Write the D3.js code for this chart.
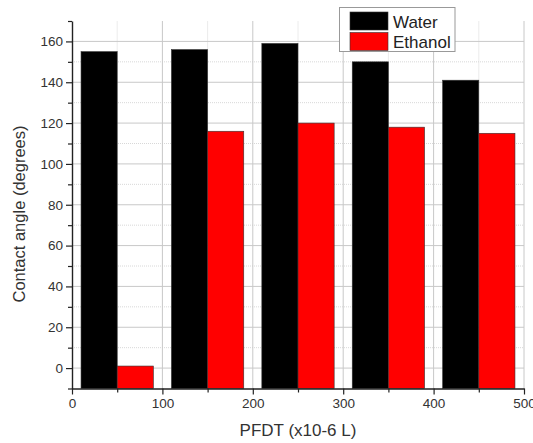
<!DOCTYPE html>
<html><head><meta charset="utf-8">
<script src="https://cdn.jsdelivr.net/npm/d3@7"></script>
<style>body{margin:0;background:#fff}svg{display:block;font-family:"Liberation Sans",Arial,sans-serif}</style>
</head><body><svg id="c" width="533" height="443"></svg>
<script>
const categories = [50, 150, 250, 350, 450];
const seriesNames = ["Water", "Ethanol"];
const water = [155, 156, 159, 150, 141];
const ethanol = [1, 116, 120, 118, 115];
const xTicks = [0, 100, 200, 300, 400, 500];
const yTicks = [0, 20, 40, 60, 80, 100, 120, 140, 160];
const colors = ["#000000", "#ff0000"];

const svg = d3.select("#c");
const x = d3.scaleLinear().domain([0, 500]).range([72, 524]);
const y = d3.scaleLinear().domain([-10, 170]).range([388.5, 21]);

// grid
const g = svg.append("g");
d3.range(10, 171, 20).forEach(v => {
  if (v === 170) return;
  g.append("line").attr("x1", x(0)).attr("x2", x(500)).attr("y1", y(v)).attr("y2", y(v))
   .attr("stroke", "#d8d8d8").attr("stroke-dasharray", "1,1");
});
[50,150,250,350,450].forEach(v => {
  g.append("line").attr("x1", x(v)).attr("x2", x(v)).attr("y1", y(-10)).attr("y2", y(170))
   .attr("stroke", "#d8d8d8").attr("stroke-dasharray", "1,1");
});
yTicks.forEach(v => {
  g.append("line").attr("x1", x(0)).attr("x2", x(500)).attr("y1", y(v)).attr("y2", y(v))
   .attr("stroke", "#c8c8c8").attr("stroke-width", 1);
});
xTicks.slice(1).forEach(v => {
  g.append("line").attr("x1", x(v)).attr("x2", x(v)).attr("y1", y(-10)).attr("y2", y(170))
   .attr("stroke", "#c8c8c8").attr("stroke-width", 1);
});

// bars
const data = [water, ethanol];
const barW = 40;
data.forEach((vals, si) => {
  svg.append("g").selectAll("rect").data(vals).join("rect")
    .attr("x", (d, i) => x(categories[i] - barW + si * barW))
    .attr("width", x(barW) - x(0))
    .attr("y", d => y(d))
    .attr("height", d => y(-10) - y(d))
    .attr("fill", colors[si])
    .attr("stroke", "#333").attr("stroke-width", 0.6);
});

// axes
const ax = svg.append("g").attr("transform", `translate(0,${y(-10)})`)
  .call(d3.axisBottom(x).tickValues(xTicks).tickSize(6).tickPadding(4).tickSizeOuter(0));
const axm = svg.append("g").attr("transform", `translate(0,${y(-10)})`)
  .call(d3.axisBottom(x).tickValues([50,150,250,350,450]).tickSize(4).tickFormat("").tickSizeOuter(0));
axm.select(".domain").remove();
const ay = svg.append("g").attr("transform", `translate(${x(0)},0)`)
  .call(d3.axisLeft(y).tickValues(yTicks).tickSize(6).tickPadding(3).tickSizeOuter(0));
const aym = svg.append("g").attr("transform", `translate(${x(0)},0)`)
  .call(d3.axisLeft(y).tickValues(d3.range(-10, 171, 20)).tickSize(4).tickFormat("").tickSizeOuter(0));
aym.select(".domain").remove();
[ax, ay, axm, aym].forEach(a => {
  a.selectAll(".domain").attr("stroke", "#222").attr("stroke-width", 1.4);
  a.selectAll(".tick line").attr("stroke", "#222").attr("stroke-width", 1.2);
  a.selectAll("text").attr("font-size", 13.5).attr("fill", "#333").attr("font-family", "Liberation Sans, Arial, sans-serif");
});

// axis labels
svg.append("text").attr("x", 298).attr("y", 436).attr("text-anchor", "middle")
  .attr("font-size", 17).attr("fill", "#333").text("PFDT (x10-6 L)");
svg.append("text").attr("transform", "translate(25,214) rotate(-90)").attr("text-anchor", "middle")
  .attr("font-size", 16.5).attr("fill", "#333").text("Contact angle (degrees)");

// legend
const lg = svg.append("g");
lg.append("rect").attr("x", 339.5).attr("y", 7.5).attr("width", 115.5).attr("height", 44)
  .attr("fill", "#fff").attr("stroke", "#999").attr("stroke-width", 1);
seriesNames.forEach((n, i) => {
  lg.append("rect").attr("x", 350).attr("y", 12 + i * 20.5).attr("width", 38).attr("height", 18)
    .attr("fill", colors[i]).attr("stroke", "#333").attr("stroke-width", 0.6);
  lg.append("text").attr("x", 393).attr("y", 27.5 + i * 20.5).attr("font-size", 17)
    .attr("fill", "#222").text(n);
});
</script></body></html>
